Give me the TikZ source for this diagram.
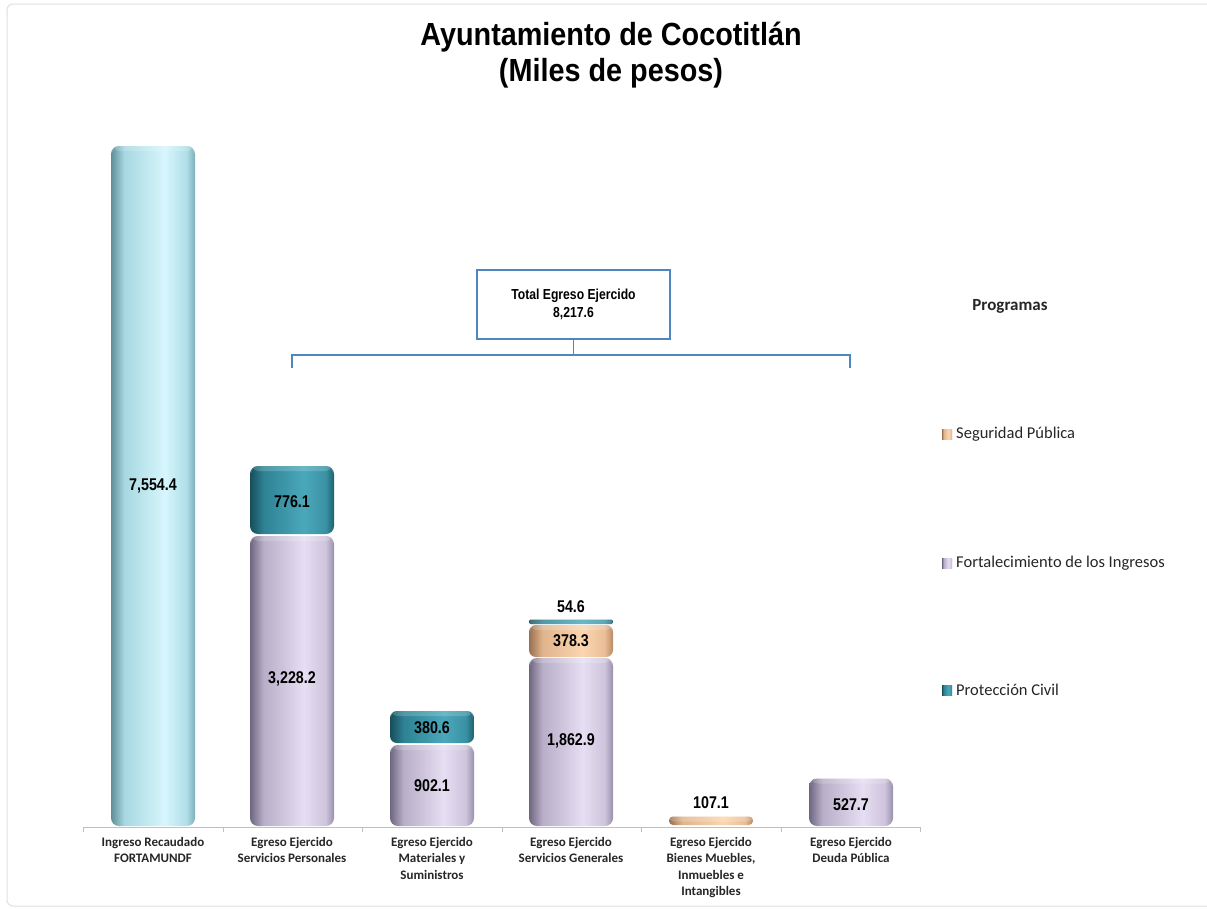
\documentclass[tikz,border=0pt]{standalone}
\usepackage{fontspec}
\setmainfont{Carlito}
\newfontfamily\narrowbold{Liberation Sans}[FakeStretch=0.84]
\newfontfamily\titlefont{Liberation Sans}[FakeStretch=0.9]
\definecolor{bE}{HTML}{5E8E98}\definecolor{bM}{HTML}{A8D8E2}\definecolor{bL}{HTML}{D6F6FC}\definecolor{bR}{HTML}{B0DEE8}\definecolor{bE2}{HTML}{7EAEB8}
\definecolor{lE}{HTML}{6E6680}\definecolor{lM}{HTML}{B8AEC8}\definecolor{lL}{HTML}{E6DEF2}\definecolor{lR}{HTML}{CEC4DC}\definecolor{lE2}{HTML}{9A90AA}
\definecolor{tE}{HTML}{174E5A}\definecolor{tM}{HTML}{2E8294}\definecolor{tL}{HTML}{4AA8BA}\definecolor{tR}{HTML}{3A92A4}\definecolor{tE2}{HTML}{1E6070}
\definecolor{oE}{HTML}{9A7050}\definecolor{oM}{HTML}{E0B48C}\definecolor{oL}{HTML}{FAD6B0}\definecolor{oR}{HTML}{EABE96}\definecolor{oE2}{HTML}{B88A66}
\definecolor{boxblue}{HTML}{4F86C0}
\definecolor{axisgray}{HTML}{BFBFBF}
\pgfdeclarehorizontalshading{cylblue}{100bp}{color(0bp)=(bE); color(25bp)=(bE); color(33bp)=(bM); color(57bp)=(bL); color(70bp)=(bR); color(75bp)=(bE2); color(100bp)=(bE2)}
\pgfdeclarehorizontalshading{cyllav}{100bp}{color(0bp)=(lE); color(25bp)=(lE); color(33bp)=(lM); color(57bp)=(lL); color(70bp)=(lR); color(75bp)=(lE2); color(100bp)=(lE2)}
\pgfdeclarehorizontalshading{cylteal}{100bp}{color(0bp)=(tE); color(25bp)=(tE); color(33bp)=(tM); color(57bp)=(tL); color(70bp)=(tR); color(75bp)=(tE2); color(100bp)=(tE2)}
\pgfdeclarehorizontalshading{cylorange}{100bp}{color(0bp)=(oE); color(25bp)=(oE); color(33bp)=(oM); color(57bp)=(oL); color(70bp)=(oR); color(75bp)=(oE2); color(100bp)=(oE2)}
% #1 shading, #2 centre x, #3 top y, #4 bottom y, #5 corner radius
\newcommand{\cylseg}[5]{%
  \shade[shading=#1, rounded corners=#5] ({#2-42},#3) rectangle ({#2+42},#4);
  \fill[white, opacity=0.18, rounded corners=#5] ({#2-41},#3) rectangle ({#2+41},{min(#3+5,#4)});
}
\tikzset{
  vallabel/.style={font=\narrowbold\bfseries\fontsize{17}{19}\selectfont, text=black, inner sep=0pt},
  catlabel/.style={font=\bfseries\fontsize{13}{16.5}\selectfont, text=black!85, align=center, anchor=north, inner sep=0pt},
  leglabel/.style={font=\fontsize{16.5}{19}\selectfont, text=black!85, anchor=west, inner sep=0pt},
  legmark/.style={minimum size=10pt, inner sep=0pt},
  axisline/.style={axisgray, line width=1pt},
  bracket/.style={boxblue, line width=1.6pt},
}
\begin{document}
\begin{tikzpicture}[x=1pt, y=-1pt]
\useasboundingbox (0,0) rectangle (1207,908);
\fill[white] (0,0) rectangle (1207,908);
\draw[black!12, line width=1pt, rounded corners=6] (7,4) rectangle (1215,906);

% title
\node[font=\titlefont\bfseries\fontsize{32}{36}\selectfont, align=center] (title) at (611,55) {Ayuntamiento de Cocotitlán\\(Miles de pesos)};

% axis
\draw[axisline] (83.5,827) -- (920.5,827);
\foreach \tx [count=\i] in {83.5,223,362.5,502,641.5,781,920.5} {
  \draw[axisline] (\tx,827) -- (\tx,832);
}

% bars
\cylseg{cylblue}{153}{146}{826}{8}
\cylseg{cyllav}{292}{536}{826}{8}
\cylseg{cylteal}{292}{466}{534}{8}
\cylseg{cyllav}{432}{745}{826}{8}
\cylseg{cylteal}{432}{711}{743}{7}
\cylseg{cyllav}{571}{658}{826}{8}
\cylseg{cylorange}{571}{625}{657}{7}
\cylseg{cylteal}{571}{619.5}{624}{2}
\cylseg{cylorange}{711}{816.5}{825}{4}
\cylseg{cyllav}{851}{778.5}{826}{8}

% value labels
\node[vallabel] (v1) at (153,486) {7,554.4};
\node[vallabel] (v2a) at (292,502) {776.1};
\node[vallabel] (v2b) at (292,679) {3,228.2};
\node[vallabel] (v3a) at (432,728) {380.6};
\node[vallabel] (v3b) at (432,786) {902.1};
\node[vallabel] (v4a) at (571,607) {54.6};
\node[vallabel] (v4b) at (571,641) {378.3};
\node[vallabel] (v4c) at (571,741) {1,862.9};
\node[vallabel] (v5) at (711,803) {107.1};
\node[vallabel] (v6) at (851,805) {527.7};

% category labels
\node[catlabel] (c1) at (153,837) {Ingreso Recaudado\\FORTAMUNDF};
\node[catlabel] (c2) at (292,837) {Egreso Ejercido\\Servicios Personales};
\node[catlabel] (c3) at (432,837) {Egreso Ejercido\\Materiales y\\Suministros};
\node[catlabel] (c4) at (571,837) {Egreso Ejercido\\Servicios Generales};
\node[catlabel] (c5) at (711,837) {Egreso Ejercido\\Bienes Muebles,\\Inmuebles e\\Intangibles};
\node[catlabel] (c6) at (851,837) {Egreso Ejercido\\Deuda Pública};

% total box and bracket
\node[draw=boxblue, line width=1.6pt, minimum width=193pt, minimum height=69pt, align=center,
      font=\narrowbold\bfseries\fontsize{14.5}{18}\selectfont] (total) at (573.5,304.5) {Total Egreso Ejercido\\8,217.6};
\coordinate (bmid) at (573.5,355);
\coordinate (bl) at (292,355);
\coordinate (br) at (850,355);
\coordinate (bld) at (292,368);
\coordinate (brd) at (850,368);
\draw[bracket] (total.south) -- (bmid);
\draw[bracket] (bld) -- (bl) -- (br) -- (brd);

% legend
\node[font=\bfseries\fontsize{17}{20}\selectfont, text=black!85] (prog) at (1010,306) {Programas};
\node[legmark, shading=cylorange, shade] (m1) at (947,434) {};
\node[leglabel] (l1) at (956,434) {Seguridad Pública};
\node[legmark, shading=cyllav, shade] (m2) at (947,563) {};
\node[leglabel] (l2) at (956,563) {Fortalecimiento de los Ingresos};
\node[legmark, shading=cylteal, shade] (m3) at (947,690) {};
\node[leglabel] (l3) at (956,690) {Protección Civil};
\end{tikzpicture}
\end{document}
